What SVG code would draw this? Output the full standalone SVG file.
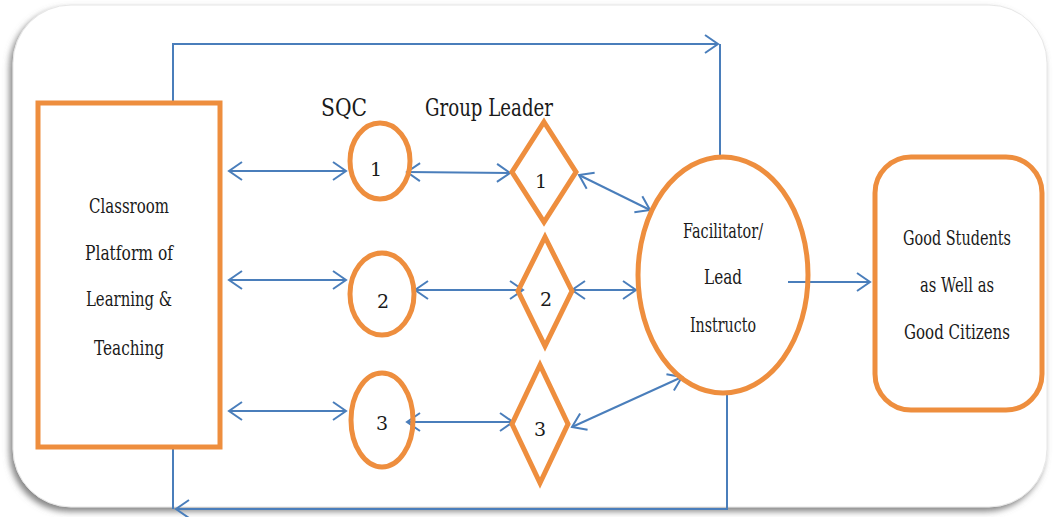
<svg xmlns="http://www.w3.org/2000/svg" width="1054" height="517" viewBox="0 0 1054 517">
<defs>
<filter id="sh" x="-5%" y="-5%" width="110%" height="112%">
<feDropShadow dx="-3" dy="4" stdDeviation="3" flood-color="#707070" flood-opacity="0.85"/>
</filter>
<marker id="ah" viewBox="-16 -11 18 22" refX="0" refY="0" markerWidth="18" markerHeight="22" markerUnits="userSpaceOnUse" orient="auto-start-reverse" overflow="visible">
<path d="M -13 -9 L 0 0 L -13 9" fill="none" stroke="#4A7EBB" stroke-width="2"/>
</marker>
</defs>
<style>
.n{fill:none;stroke:#EE8E3E;stroke-width:5}
.c{fill:none;stroke:#4A7EBB;stroke-width:2}
.t{fill:#1a1a1a;text-anchor:middle;font-family:"DejaVu Serif","Liberation Serif",serif}
</style>
<rect x="0" y="0" width="1054" height="517" fill="#ffffff"/>
<rect x="13" y="5" width="1034" height="502" rx="58" fill="#ffffff" filter="url(#sh)" stroke="#e6e6e6" stroke-width="1"/>

<g id="connectors">
<polyline class="c" points="173,103 173,44 718,44" marker-end="url(#ah)"/>
<line class="c" x1="720" y1="44" x2="720" y2="157"/>
<polyline class="c" points="727,393 727,509 176,509" marker-end="url(#ah)"/>
<line class="c" x1="173" y1="447" x2="173" y2="509"/>
<line class="c" x1="229" y1="171" x2="346" y2="171" marker-start="url(#ah)" marker-end="url(#ah)"/>
<line class="c" x1="229" y1="280" x2="346" y2="280" marker-start="url(#ah)" marker-end="url(#ah)"/>
<line class="c" x1="229" y1="411" x2="346" y2="411" marker-start="url(#ah)" marker-end="url(#ah)"/>
<line class="c" x1="407" y1="172" x2="510" y2="173" marker-start="url(#ah)" marker-end="url(#ah)"/>
<line class="c" x1="415" y1="290" x2="523" y2="290" marker-start="url(#ah)" marker-end="url(#ah)"/>
<line class="c" x1="407" y1="422" x2="513" y2="422" marker-start="url(#ah)" marker-end="url(#ah)"/>
<line class="c" x1="579" y1="175" x2="650" y2="210" marker-start="url(#ah)" marker-end="url(#ah)"/>
<line class="c" x1="572" y1="290" x2="636" y2="290" marker-start="url(#ah)" marker-end="url(#ah)"/>
<line class="c" x1="572" y1="427" x2="682" y2="377" marker-start="url(#ah)" marker-end="url(#ah)"/>
<line class="c" x1="788" y1="282" x2="870" y2="282" marker-end="url(#ah)"/>
</g>

<g id="classroom">
<rect class="n" x="38" y="103" width="182" height="344"/>
<text class="t" x="129" y="213" font-size="20" textLength="80" lengthAdjust="spacingAndGlyphs">Classroom</text>
<text class="t" x="129" y="260" font-size="20" textLength="88" lengthAdjust="spacingAndGlyphs">Platform of</text>
<text class="t" x="129" y="306" font-size="20" textLength="86" lengthAdjust="spacingAndGlyphs">Learning &amp;</text>
<text class="t" x="129" y="355" font-size="20" textLength="70" lengthAdjust="spacingAndGlyphs">Teaching</text>
</g>

<g id="label-sqc">
<text class="t" x="344" y="116" font-size="24" textLength="46" lengthAdjust="spacingAndGlyphs">SQC</text>
</g>
<g id="label-group-leader">
<text class="t" x="489" y="116" font-size="24" textLength="128" lengthAdjust="spacingAndGlyphs">Group Leader</text>
</g>

<g id="sqc1">
<ellipse class="n" cx="380" cy="161" rx="30" ry="38"/>
<text class="t" x="376" y="176" font-size="19">1</text>
</g>
<g id="sqc2">
<ellipse class="n" cx="382" cy="294" rx="32" ry="41"/>
<text class="t" x="383" y="308" font-size="19">2</text>
</g>
<g id="sqc3">
<ellipse class="n" cx="382" cy="420" rx="31" ry="47"/>
<text class="t" x="382" y="430" font-size="19">3</text>
</g>

<g id="leader1">
<polygon class="n" points="544,122 576,172 544,222 512,172"/>
<text class="t" x="541" y="188" font-size="19">1</text>
</g>
<g id="leader2">
<polygon class="n" points="545,237 572,291 545,346 518,291"/>
<text class="t" x="546" y="306" font-size="19">2</text>
</g>
<g id="leader3">
<polygon class="n" points="540,365 568,424 540,483 512,424"/>
<text class="t" x="540" y="436" font-size="19">3</text>
</g>

<g id="facilitator">
<ellipse class="n" cx="723" cy="275" rx="85" ry="118"/>
<text class="t" x="723" y="238" font-size="20" textLength="80" lengthAdjust="spacingAndGlyphs">Facilitator/</text>
<text class="t" x="723" y="284" font-size="20" textLength="38" lengthAdjust="spacingAndGlyphs">Lead</text>
<text class="t" x="723" y="332" font-size="20" textLength="66" lengthAdjust="spacingAndGlyphs">Instructo</text>
</g>

<g id="outcome">
<rect class="n" x="875" y="157" width="167" height="253" rx="36"/>
<text class="t" x="957" y="245" font-size="20" textLength="108" lengthAdjust="spacingAndGlyphs">Good Students</text>
<text class="t" x="957" y="292" font-size="20" textLength="74" lengthAdjust="spacingAndGlyphs">as Well as</text>
<text class="t" x="957" y="339" font-size="20" textLength="106" lengthAdjust="spacingAndGlyphs">Good Citizens</text>
</g>
</svg>
